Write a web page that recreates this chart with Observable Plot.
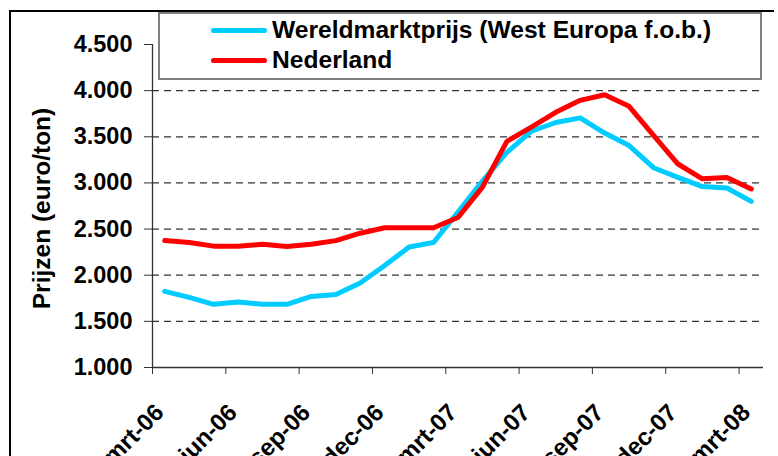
<!DOCTYPE html>
<html>
<head>
<meta charset="utf-8">
<script src="https://cdn.jsdelivr.net/npm/d3@7"></script>
<script src="https://cdn.jsdelivr.net/npm/@observablehq/plot@0.6"></script>
<style>
  html, body { margin: 0; padding: 0; background: #fff; }
  #wrap { position: relative; width: 778px; height: 456px; overflow: hidden; font-family: "Liberation Sans", Arial, sans-serif; }
  #frame { position: absolute; left: 9px; top: 10px; width: 765px; height: 450px; border-top: 2px solid #000; border-left: 2px solid #000; box-sizing: border-box; pointer-events: none; }
  #legend { position: absolute; left: 158px; top: 12px; width: 604px; height: 68px; box-sizing: border-box; border: 2px solid #808080; background: #fff; padding-top: 1px; }
  .row { display: flex; align-items: center; height: 30px; font-weight: bold; font-size: 24.6px; color: #000; white-space: nowrap; }
  .sw { width: 56px; height: 5px; border-radius: 3px; margin-left: 51px; margin-right: 5px; }
</style>
</head>
<body>
<div id="wrap">
  <div id="chart"></div>
  <div id="frame"></div>
  <div id="legend"></div>
</div>
<script>
const months = ["mrt-06","apr-06","mei-06","jun-06","jul-06","aug-06","sep-06","okt-06","nov-06","dec-06",
  "jan-07","feb-07","mrt-07","apr-07","mei-07","jun-07","jul-07","aug-07","sep-07","okt-07","nov-07","dec-07",
  "jan-08","feb-08","mrt-08"];
const wereldmarkt = [1825, 1760, 1685, 1710, 1685, 1685, 1770, 1790, 1915, 2105, 2305, 2355, 2685,
  3020, 3330, 3560, 3655, 3705, 3540, 3405, 3165, 3060, 2960, 2945, 2800];
const nederland = [2375, 2355, 2315, 2315, 2335, 2310, 2335, 2375, 2455, 2515, 2515, 2515, 2625,
  2955, 3450, 3605, 3765, 3895, 3955, 3830, 3515, 3205, 3045, 3060, 2935];
const yTicks = [1000, 1500, 2000, 2500, 3000, 3500, 4000, 4500];
const labelMonths = ["mrt-06","jun-06","sep-06","dec-06","mrt-07","jun-07","sep-07","dec-07","mrt-08"];
const seriesNames = ["Wereldmarktprijs (West Europa f.o.b.)", "Nederland"];
const seriesColors = ["#00CCFF", "#FF0000"];
const yTitle = "Prijzen (euro/ton)";

const blueData = months.map((m, i) => ({i, v: wereldmarkt[i]}));
const redData = months.map((m, i) => ({i, v: nederland[i]}));
const fmt = d => d3.format(",")(d).replace(",", ".");
const font = "'Liberation Sans', Arial, sans-serif";

const chart = Plot.plot({
  width: 778, height: 456,
  marginLeft: 152, marginRight: 15, marginTop: 44, marginBottom: 89,
  style: {fontFamily: font, background: "transparent", overflow: "visible"},
  x: {type: "linear", domain: [-0.5, 24.5], axis: null},
  y: {domain: [1000, 4500], axis: null},
  marks: [
    Plot.ruleY(yTicks.filter(d => d > 1000 && d < 4500), {stroke: "#333", strokeDasharray: "7,5", strokeWidth: 1.3}),
    Plot.ruleX([-0.5], {stroke: "#333", strokeWidth: 1.3}),
    Plot.ruleY([1000], {stroke: "#333", strokeWidth: 1.3}),
    Plot.axisY({ticks: yTicks, tickSize: 8, tickPadding: 12, tickFormat: fmt, fontSize: 23.5, fontWeight: "bold", label: null, stroke: "#333"}),
    Plot.axisX({ticks: labelMonths.map(m => months.indexOf(m) - 0.5), tickSize: 7, tickFormat: () => "", label: null, stroke: "#333"}),
    Plot.text(labelMonths, {x: d => months.indexOf(d), y: () => 1000, rotate: -45, textAnchor: "end", lineAnchor: "middle", dx: -5, dy: 41, fontSize: 24, fontWeight: "bold", fill: "#000"}),
    Plot.text([yTitle], {frameAnchor: "left", rotate: -90, textAnchor: "middle", lineAnchor: "middle", dx: -110, dy: 2.5, fontSize: 24.5, fontWeight: "bold", fill: "#000"}),
    Plot.line(blueData, {x: "i", y: "v", stroke: seriesColors[0], strokeWidth: 5, strokeLinejoin: "round", strokeLinecap: "round"}),
    Plot.line(redData, {x: "i", y: "v", stroke: seriesColors[1], strokeWidth: 5, strokeLinejoin: "round", strokeLinecap: "round"})
  ]
});
document.getElementById("chart").appendChild(chart);

const legend = document.getElementById("legend");
seriesNames.forEach((name, k) => {
  const row = document.createElement("div");
  row.className = "row";
  const sw = document.createElement("span");
  sw.className = "sw";
  sw.style.background = seriesColors[k];
  const t = document.createElement("span");
  t.textContent = name;
  row.appendChild(sw);
  row.appendChild(t);
  legend.appendChild(row);
});
</script>
</body>
</html>
